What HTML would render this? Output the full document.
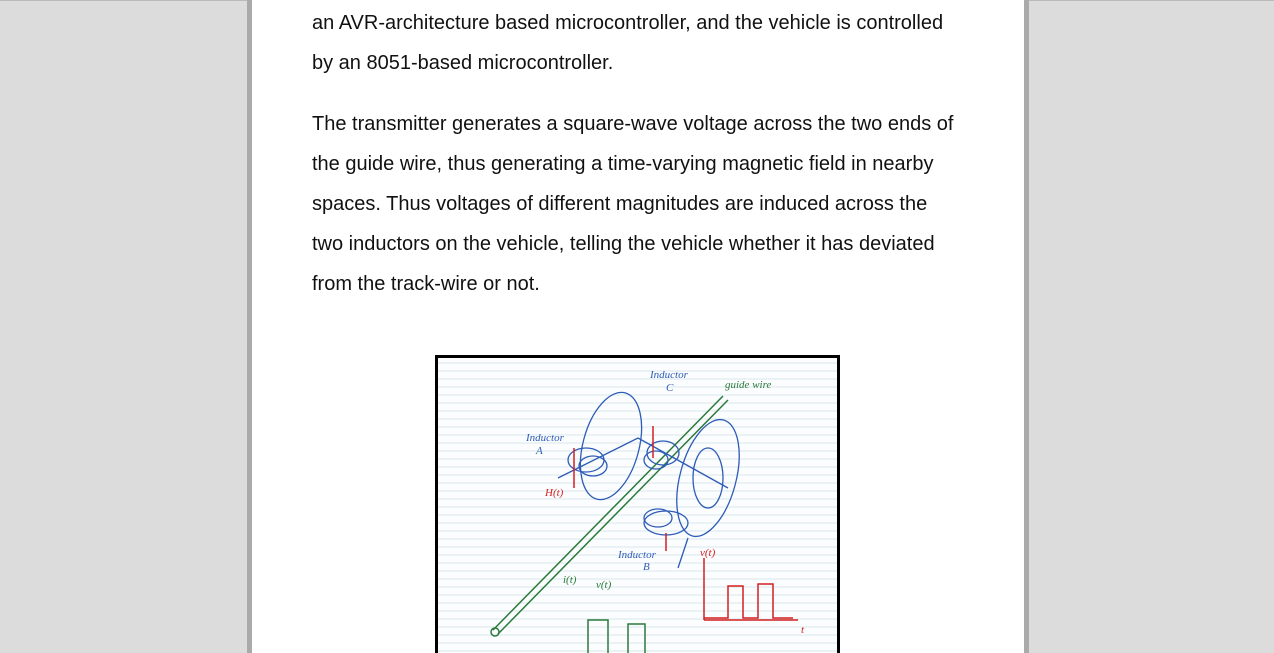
<!DOCTYPE html>
<html><head><meta charset="utf-8"><style>
html,body{margin:0;padding:0;width:1274px;height:653px;overflow:hidden;background:#dcdcdc;font-family:"Liberation Sans",sans-serif;position:relative}
#page{position:absolute;left:247px;top:0;width:772px;height:653px;background:#fff;border-left:5px solid #aaa;border-right:5px solid #aaa;overflow:hidden}
#topline{position:absolute;left:0;top:0;width:1274px;height:1px;background:#bbb}
.p{position:absolute;left:60px;width:700px;font-size:20px;line-height:40px;color:#111;margin:0}
#fig{position:absolute;left:183px;top:355px;width:399px;height:310px;border:3px solid #000;background:#fbfdfe}
</style></head><body>
<div id="topline"></div>
<div id="page">
<p class="p" style="top:3px">an AVR-architecture based microcontroller, and the vehicle is controlled<br>by an 8051-based microcontroller.</p>
<p class="p" style="top:104px">The transmitter generates a square-wave voltage across the two ends of<br>the guide wire, thus generating a time-varying magnetic field in nearby<br>spaces. Thus voltages of different magnitudes are induced across the<br>two inductors on the vehicle, telling the vehicle whether it has deviated<br>from the track-wire or not.</p>
<div id="fig">
<svg width="399" height="310" viewBox="0 0 399 310">
<g stroke="#dbe8ec" stroke-width="1">
<line x1="0" y1="5" x2="399" y2="5"/><line x1="0" y1="13" x2="399" y2="13"/><line x1="0" y1="21" x2="399" y2="21"/><line x1="0" y1="29" x2="399" y2="29"/><line x1="0" y1="37" x2="399" y2="37"/><line x1="0" y1="45" x2="399" y2="45"/><line x1="0" y1="53" x2="399" y2="53"/><line x1="0" y1="61" x2="399" y2="61"/><line x1="0" y1="69" x2="399" y2="69"/><line x1="0" y1="77" x2="399" y2="77"/><line x1="0" y1="85" x2="399" y2="85"/><line x1="0" y1="93" x2="399" y2="93"/><line x1="0" y1="101" x2="399" y2="101"/><line x1="0" y1="109" x2="399" y2="109"/><line x1="0" y1="117" x2="399" y2="117"/><line x1="0" y1="125" x2="399" y2="125"/><line x1="0" y1="133" x2="399" y2="133"/><line x1="0" y1="141" x2="399" y2="141"/><line x1="0" y1="149" x2="399" y2="149"/><line x1="0" y1="157" x2="399" y2="157"/><line x1="0" y1="165" x2="399" y2="165"/><line x1="0" y1="173" x2="399" y2="173"/><line x1="0" y1="181" x2="399" y2="181"/><line x1="0" y1="189" x2="399" y2="189"/><line x1="0" y1="197" x2="399" y2="197"/><line x1="0" y1="205" x2="399" y2="205"/><line x1="0" y1="213" x2="399" y2="213"/><line x1="0" y1="221" x2="399" y2="221"/><line x1="0" y1="229" x2="399" y2="229"/><line x1="0" y1="237" x2="399" y2="237"/><line x1="0" y1="245" x2="399" y2="245"/><line x1="0" y1="253" x2="399" y2="253"/><line x1="0" y1="261" x2="399" y2="261"/><line x1="0" y1="269" x2="399" y2="269"/><line x1="0" y1="277" x2="399" y2="277"/><line x1="0" y1="285" x2="399" y2="285"/><line x1="0" y1="293" x2="399" y2="293"/>
</g>
<g fill="none" stroke="#2a7a3a" stroke-width="1.5">
<path d="M55 272 L285 38 M60 276 L290 42"/><circle cx="57" cy="274" r="4"/>
<path d="M150 308 V262 H170 V308 M190 308 V266 H207 V308"/>
</g>
<g fill="none" stroke="#2d5bb8" stroke-width="1.3">
<ellipse cx="173" cy="88" rx="28" ry="55" transform="rotate(15 173 88)"/>
<ellipse cx="270" cy="120" rx="28" ry="60" transform="rotate(15 270 120)"/>
<ellipse cx="270" cy="120" rx="15" ry="30"/>
<ellipse cx="148" cy="102" rx="18" ry="12"/><ellipse cx="155" cy="108" rx="14" ry="10"/>
<ellipse cx="225" cy="95" rx="16" ry="12"/><ellipse cx="218" cy="102" rx="12" ry="9"/>
<ellipse cx="228" cy="165" rx="22" ry="12"/><ellipse cx="220" cy="160" rx="14" ry="9"/>
<path d="M120 120 L200 80 M200 80 L290 130 M240 210 L250 180"/>
</g>
<g fill="none" stroke="#d42020" stroke-width="1.5">
<path d="M266 262 V200 M266 262 H360 M266 260 H290 V228 H305 V260 H320 V226 H335 V260 H355"/>
<path d="M136 90 V130 M215 68 V100 M228 175 V193"/>
</g>
<g font-family="Liberation Serif,serif" font-style="italic" font-size="11">
<text x="212" y="20" fill="#2d5bb8">Inductor</text><text x="228" y="33" fill="#2d5bb8">C</text>
<text x="88" y="83" fill="#2d5bb8">Inductor</text><text x="98" y="96" fill="#2d5bb8">A</text>
<text x="180" y="200" fill="#2d5bb8">Inductor</text><text x="205" y="212" fill="#2d5bb8">B</text>
<text x="287" y="30" fill="#2a7a3a">guide wire</text>
<text x="107" y="138" fill="#d42020">H(t)</text><text x="262" y="198" fill="#d42020">v(t)</text>
<text x="363" y="275" fill="#d42020">t</text>
<text x="125" y="225" fill="#2a7a3a">i(t)</text><text x="158" y="230" fill="#2a7a3a">v(t)</text>
</g>
</svg>
</div>
</div>
</body></html>
